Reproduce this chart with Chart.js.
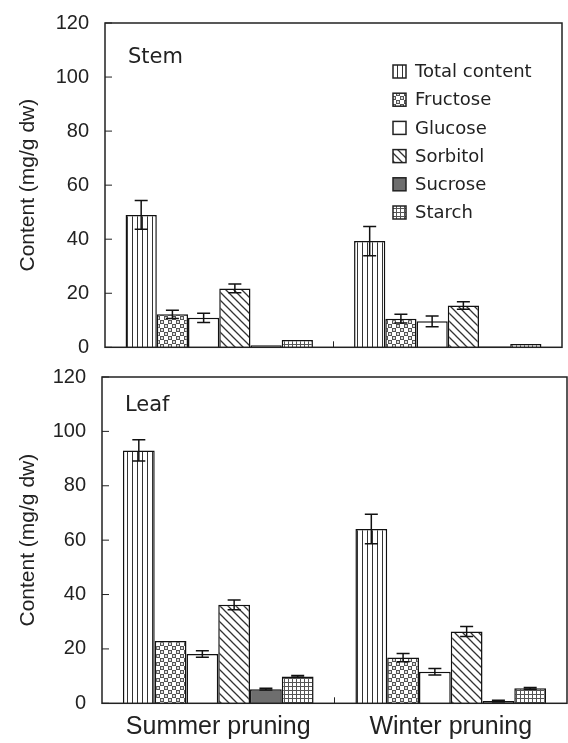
<!DOCTYPE html>
<html>
<head>
<meta charset="utf-8">
<script src="https://cdn.jsdelivr.net/npm/chart.js@4/dist/chart.umd.min.js"></script>
<style>
  body { margin: 0; background: #fff; }
  #wrap { position: relative; width: 568px; height: 743px; }
  #stemChart { position: absolute; left: 0; top: 0; }
  #leafChart { position: absolute; left: 0; top: 362px; }
</style>
</head>
<body>
<div id="wrap">
  <canvas id="stemChart" width="568" height="362"></canvas>
  <canvas id="leafChart" width="568" height="381"></canvas>
</div>
<script>
// categories and series
const categories = ["Summer pruning", "Winter pruning"];
const seriesNames = ["Total content", "Fructose", "Glucose", "Sorbitol", "Sucrose", "Starch"];
const yTicks = [0, 20, 40, 60, 80, 100, 120];

// Stem (mg/g dw) [summer, winter]
const stemTotal = [49.0, 39.3];
const stemFructose = [12.2, 10.6];
const stemGlucose = [10.9, 9.6];
const stemSorbitol = [21.8, 15.5];
const stemSucrose = [0.8, 0.3];
const stemStarch = [2.7, 1.2];
// Stem error (SE)
const stemTotalErr = [5.3, 5.4];
const stemFructoseErr = [1.5, 1.6];
const stemGlucoseErr = [1.7, 2.0];
const stemSorbitolErr = [1.6, 1.4];
const stemSucroseErr = [0, 0];
const stemStarchErr = [0, 0];

// Leaf (mg/g dw)
const leafTotal = [93.0, 64.1];
const leafFructose = [22.9, 16.8];
const leafGlucose = [18.1, 11.6];
const leafSorbitol = [36.2, 26.4];
const leafSucrose = [5.2, 0.8];
const leafStarch = [9.9, 5.5];
// Leaf error
const leafTotalErr = [3.9, 5.4];
const leafFructoseErr = [0, 1.5];
const leafGlucoseErr = [1.2, 1.2];
const leafSorbitolErr = [1.8, 1.8];
const leafSucroseErr = [0.3, 0.3];
const leafStarchErr = [0.3, 0.3];

// hatch patterns
function makePattern(w, h, draw) {
  const c = document.createElement("canvas");
  c.width = w;
  c.height = h;
  const g = c.getContext("2d");
  g.fillStyle = "#fff";
  g.fillRect(0, 0, w, h);
  draw(g);
  return g.createPattern(c, "repeat");
}
const patVertical = makePattern(5, 5, (g) => {
  g.fillStyle = "#333";
  g.fillRect(2, 0, 1, 5);
});
const patChecker = makePattern(8, 8, (g) => {
  g.fillStyle = "#555";
  g.fillRect(0, 0, 4, 4);
  g.fillRect(4, 4, 4, 4);
  g.fillStyle = "#ddd";
  g.fillRect(1, 1, 2, 2);
  g.fillRect(5, 5, 2, 2);
});
const patDiag = makePattern(8, 8, (g) => {
  g.strokeStyle = "#333";
  g.lineWidth = 1.3;
  g.beginPath();
  g.moveTo(-1, -1); g.lineTo(9, 9);
  g.moveTo(-5, 3); g.lineTo(5, 13);
  g.moveTo(3, -5); g.lineTo(13, 5);
  g.stroke();
});
const patGrid = makePattern(4, 4, (g) => {
  g.fillStyle = "#555";
  g.fillRect(0, 0, 4, 1);
  g.fillRect(0, 0, 1, 4);
});
const fills = [patVertical, patChecker, "#ffffff", patDiag, "#6e6e6e", patGrid];

// error bars
const errorBars = {
  id: "errorBars",
  afterDatasetsDraw(chart) {
    const ctx = chart.ctx;
    const y = chart.scales.y;
    ctx.save();
    ctx.strokeStyle = "#111";
    ctx.lineWidth = 1.5;
    chart.data.datasets.forEach((ds, i) => {
      const meta = chart.getDatasetMeta(i);
      meta.data.forEach((bar, j) => {
        const e = ds.err[j];
        if (!e) return;
        const yt = y.getPixelForValue(ds.data[j] + e);
        const yb = y.getPixelForValue(ds.data[j] - e);
        ctx.beginPath();
        ctx.moveTo(bar.x, yt); ctx.lineTo(bar.x, yb);
        ctx.moveTo(bar.x - 6.5, yt); ctx.lineTo(bar.x + 6.5, yt);
        ctx.moveTo(bar.x - 6.5, yb); ctx.lineTo(bar.x + 6.5, yb);
        ctx.stroke();
      });
    });
    ctx.restore();
  },
};

// frame, inward ticks, panel label and legend
const frame = {
  id: "frame",
  afterDraw(chart, args, opts) {
    const ctx = chart.ctx;
    const a = chart.chartArea;
    const y = chart.scales.y;
    ctx.save();
    ctx.strokeStyle = "#222";
    ctx.lineWidth = 1.5;
    ctx.strokeRect(a.left, a.top, a.right - a.left, a.bottom - a.top);
    ctx.lineWidth = 1;
    ctx.beginPath();
    y.ticks.forEach((t) => {
      const py = y.getPixelForValue(t.value);
      ctx.moveTo(a.left, py); ctx.lineTo(a.left + 7, py);
    });
    const mid = (a.left + a.right) / 2;
    ctx.moveTo(mid, a.bottom); ctx.lineTo(mid, a.bottom - 6);
    ctx.stroke();

    ctx.fillStyle = "#222";
    ctx.font = "21px 'DejaVu Sans'";
    ctx.textBaseline = "middle";
    ctx.fillText(opts.panel, a.left + 23, a.top + opts.panelY);

    if (opts.legend) {
      ctx.font = "18px 'DejaVu Sans'";
      const lx = a.right - 169;
      chart.data.datasets.forEach((ds, i) => {
        const cy = a.top + 48.5 + i * 28.2;
        ctx.fillStyle = ds.backgroundColor;
        ctx.fillRect(lx, cy - 6.5, 13, 13);
        ctx.lineWidth = 1.5;
        ctx.strokeStyle = "#222";
        ctx.strokeRect(lx, cy - 6.5, 13, 13);
        ctx.fillStyle = "#222";
        ctx.fillText(ds.label, lx + 22, cy + 1);
      });
    }
    ctx.restore();
  },
};

function buildChart(id, values, errs, opt) {
  const datasets = seriesNames.map((name, i) => ({
    label: name,
    data: values[i],
    err: errs[i],
    backgroundColor: fills[i],
    borderColor: "#111",
    borderWidth: 1.5,
    borderSkipped: "bottom",
  }));
  return new Chart(document.getElementById(id), {
    type: "bar",
    data: { labels: categories, datasets: datasets },
    options: {
      responsive: false,
      animation: false,
      devicePixelRatio: 1,
      layout: { padding: { top: opt.padTop, right: opt.padRight, bottom: 0, left: 0 } },
      datasets: { bar: { categoryPercentage: 0.82, barPercentage: 1 } },
      plugins: {
        legend: { display: false },
        tooltip: { enabled: false },
        frame: { panel: opt.panel, panelY: opt.panelY, legend: opt.legend },
      },
      scales: {
        x: {
          grid: { display: false, drawTicks: false },
          border: { display: false },
          ticks: {
            display: opt.showX,
            padding: 9,
            color: "#222",
            font: { size: 25, family: "'Liberation Sans', Arial" },
          },
          afterFit: (s) => {
            s.height = opt.xHeight;
            s.paddingLeft = 0;
            s.paddingRight = 0;
          },
        },
        y: {
          min: 0,
          max: 120,
          afterBuildTicks: (s) => { s.ticks = yTicks.map((v) => ({ value: v })); },
          grid: { display: false, drawTicks: false },
          border: { display: false },
          ticks: {
            padding: 16,
            color: "#222",
            font: { size: 20, family: "'Liberation Sans', Arial" },
          },
          title: {
            display: true,
            text: "Content (mg/g dw)",
            color: "#222",
            padding: { top: 16, bottom: 0 },
            font: { size: 21, family: "'Liberation Sans', Arial" },
          },
          afterFit: (s) => {
            s.width = opt.yWidth;
            s.paddingTop = 0;
            s.paddingBottom = 0;
          },
        },
      },
    },
    plugins: [errorBars, frame],
  });
}

buildChart(
  "stemChart",
  [stemTotal, stemFructose, stemGlucose, stemSorbitol, stemSucrose, stemStarch],
  [stemTotalErr, stemFructoseErr, stemGlucoseErr, stemSorbitolErr, stemSucroseErr, stemStarchErr],
  { panel: "Stem", panelY: 35, legend: true, showX: false, padTop: 23, padRight: 6, xHeight: 14.7, yWidth: 105 }
);
buildChart(
  "leafChart",
  [leafTotal, leafFructose, leafGlucose, leafSorbitol, leafSucrose, leafStarch],
  [leafTotalErr, leafFructoseErr, leafGlucoseErr, leafSorbitolErr, leafSucroseErr, leafStarchErr],
  { panel: "Leaf", panelY: 29, legend: false, showX: true, padTop: 15, padRight: 1, xHeight: 39.7, yWidth: 102 }
);
</script>
</body>
</html>
